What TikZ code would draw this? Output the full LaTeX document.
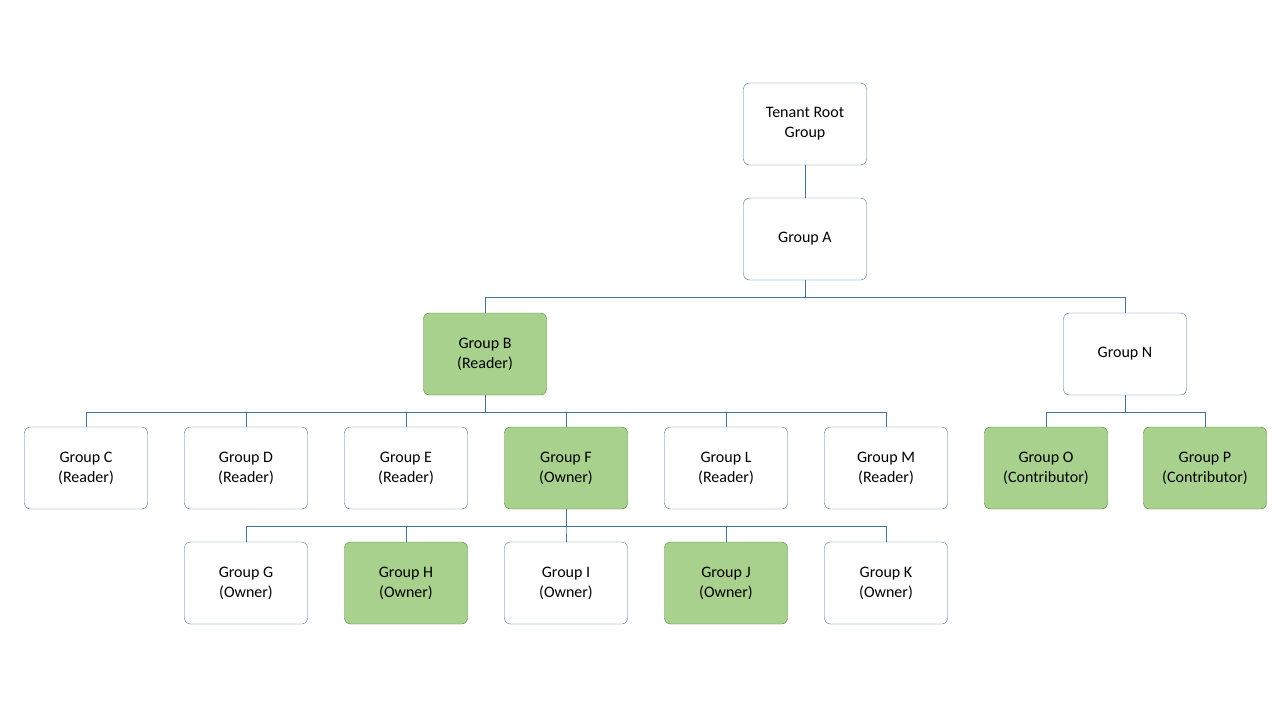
\documentclass[tikz,border=0pt]{standalone}
\usepackage{fontspec}
\setmainfont{Carlito}
\tikzset{
  grp/.style={draw=linecol, fill=white, rounded corners=6pt, minimum width=123pt, minimum height=82pt, align=center, font=\fontsize{16}{20}\selectfont},
  sel/.style={grp, draw=darkgrn, fill=lightgrn},
  link/.style={draw=linecol, line width=0.8pt}
}
\definecolor{linecol}{HTML}{41719C}
\definecolor{darkgrn}{HTML}{507E32}
\definecolor{lightgrn}{HTML}{A9D18E}
\begin{document}
\begin{tikzpicture}[x=1pt,y=-1pt]

\useasboundingbox (0,0) rectangle (1280,720);

\node[grp] (root) at (805,124) {Tenant Root\\Group};
\node[grp] (A) at (805,239) {Group A};
\node[sel] (B) at (485,354) {Group B\\(Reader)};
\node[grp] (N) at (1125,354) {Group N};

\node[grp] (C) at (86,468) {Group C\\(Reader)};
\node[grp] (D) at (246,468) {Group D\\(Reader)};
\node[grp] (E) at (406,468) {Group E\\(Reader)};
\node[sel] (F) at (566,468) {Group F\\(Owner)};
\node[grp] (L) at (726,468) {Group L\\(Reader)};
\node[grp] (M) at (886,468) {Group M\\(Reader)};
\node[sel] (O) at (1046,468) {Group O\\(Contributor)};
\node[sel] (P) at (1205,468) {Group P\\(Contributor)};

\node[grp] (G) at (246,583) {Group G\\(Owner)};
\node[sel] (H) at (406,583) {Group H\\(Owner)};
\node[grp] (I) at (566,583) {Group I\\(Owner)};
\node[sel] (J) at (726,583) {Group J\\(Owner)};
\node[grp] (K) at (886,583) {Group K\\(Owner)};

\draw[link] (root) -- (A);
\foreach \c in {B,N}
  \draw[link] (A.south) -- ++(0,17) -| (\c.north);
\foreach \c in {C,D,E,F,L,M}
  \draw[link] (B.south) -- ++(0,17) -| (\c.north);
\foreach \c in {O,P}
  \draw[link] (N.south) -- ++(0,17) -| (\c.north);
\foreach \c in {G,H,I,J,K}
  \draw[link] (F.south) -- ++(0,17) -| (\c.north);

\end{tikzpicture}
\end{document}
